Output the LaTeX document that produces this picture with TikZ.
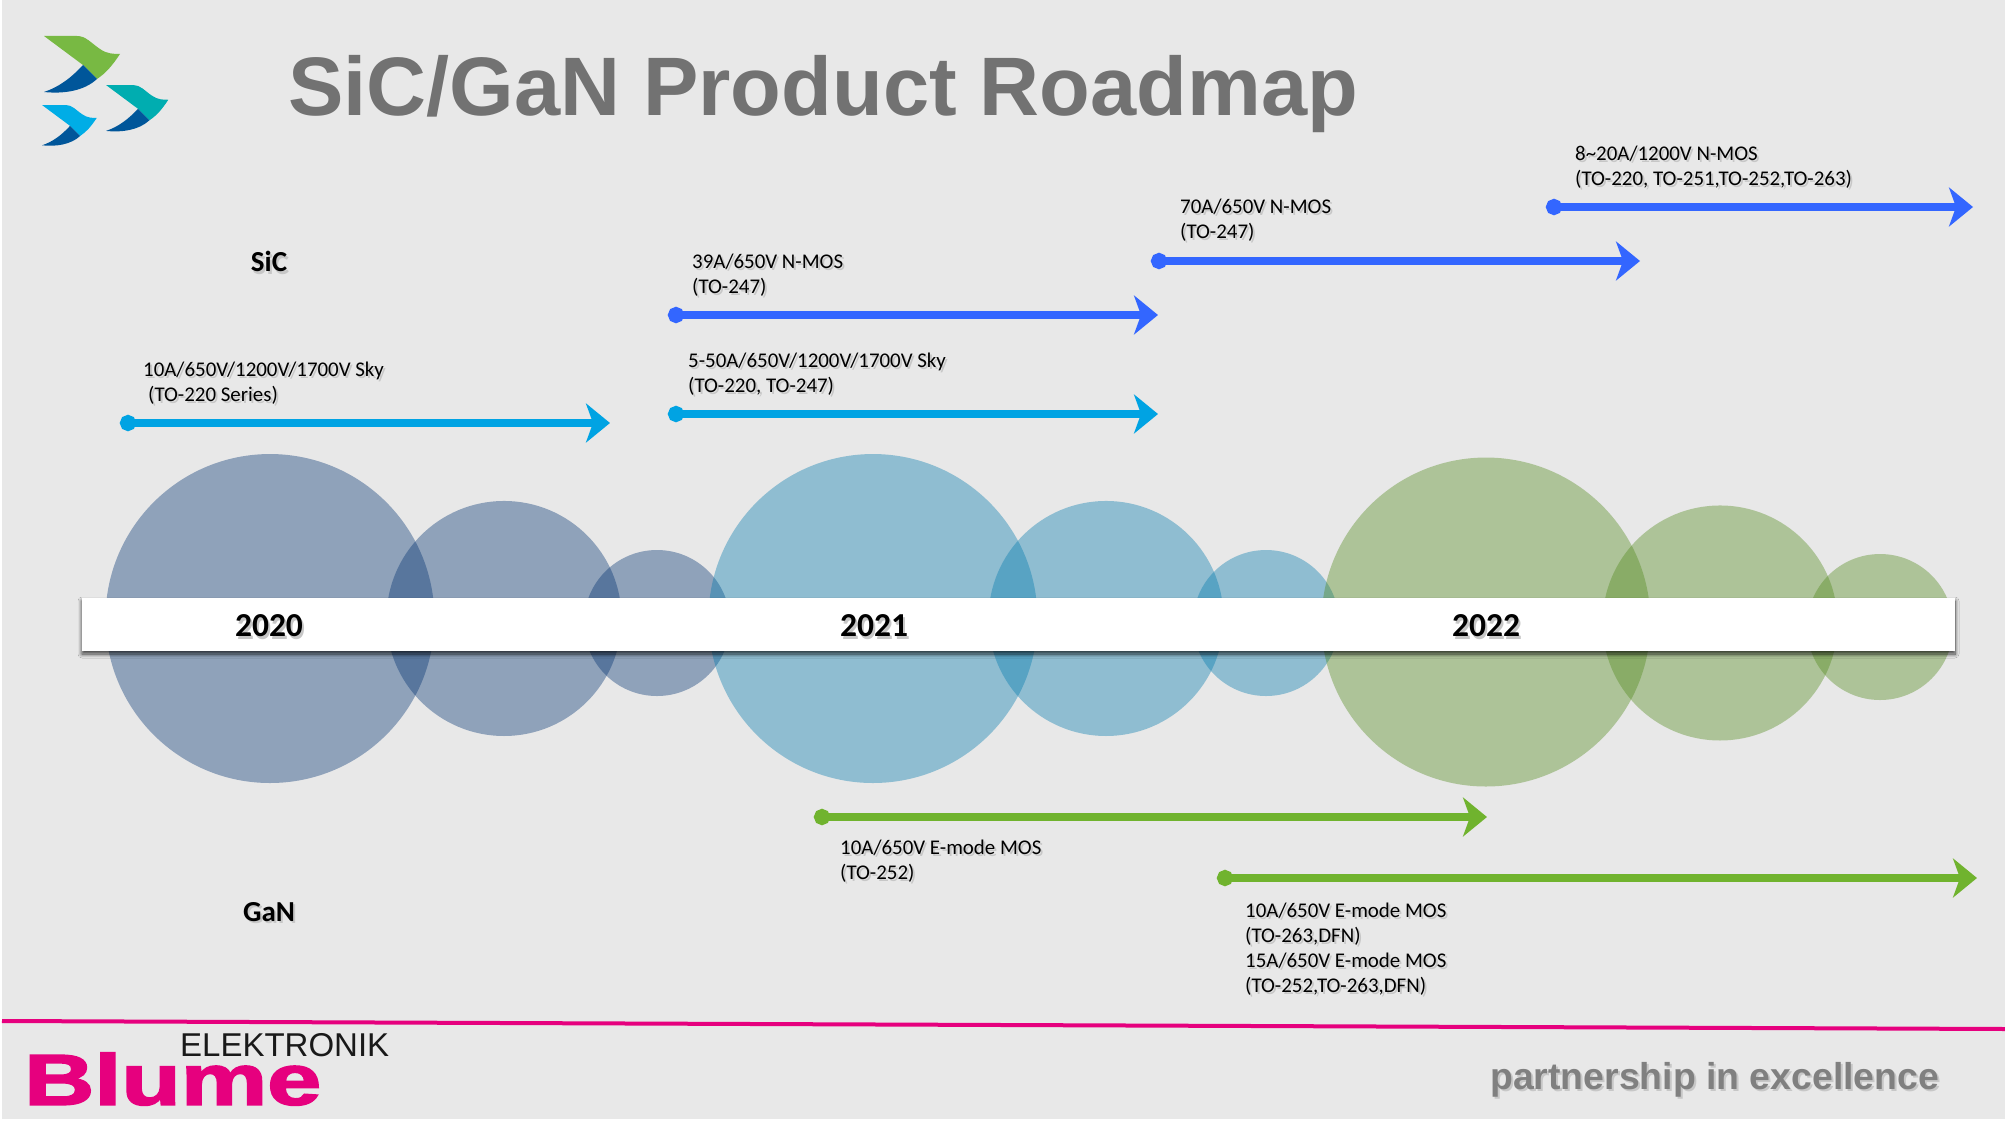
\documentclass[tikz,border=0pt]{standalone}
\usepackage{fontspec}
\setmainfont{Carlito}
\newfontfamily\arialfont{Liberation Sans}
\newfontfamily\blumefont[FakeBold=2.2]{Liberation Sans Bold}
\usetikzlibrary{arrows.meta,positioning,shadows.blur,fadings}
\definecolor{pagegray}{HTML}{E8E8E8}
\definecolor{skyblue}{HTML}{00A3E3}
\definecolor{sicblue}{HTML}{3366FF}
\definecolor{gangreen}{HTML}{70B32E}
\definecolor{bubbleone}{RGB}{0,48,112}
\definecolor{bubbletwo}{RGB}{0,121,174}
\definecolor{bubblethree}{RGB}{79,135,24}
\definecolor{blumepink}{HTML}{E6007E}
\definecolor{titlegray}{HTML}{727272}
\definecolor{birdgreen}{HTML}{78B943}
\definecolor{birdteal}{HTML}{00ADB0}
\definecolor{birdcyan}{HTML}{00ADE6}
\definecolor{birddark}{HTML}{00569A}
\pgfdeclareradialshading{softrimshade}{\pgfpointorigin}{color(0bp)=(pgftransparent!0); color(48bp)=(pgftransparent!0); color(50bp)=(pgftransparent!100)}
\pgfdeclarefading{softrim}{\pgfuseshading{softrimshade}}
\newcommand{\soft}[1]{\leavevmode\rlap{\hspace{2pt}\raisebox{-2.5pt}{\color{black!22}#1}}#1}
\newcommand{\drawbird}[4]{%
\begin{scope}[shift={(#1,#2)},scale=#3]
\fill[#4] (0,0) -- (33,0) .. controls (42,0) and (47,7) .. (56,13) .. controls (63,18) and (70,18) .. (76,18) .. controls (68,30) and (62,37) .. (53,43) -- (39,29) -- cycle;
\fill[birddark] (39,29) -- (53,43) .. controls (40,55) and (20,58) .. (0,56) .. controls (15,51) and (27,42) .. (39,29) -- cycle;
\end{scope}}
\tikzset{
  bubble/.style={fill=#1,fill opacity=.38,draw=none,path fading=softrim},
  roadarrow/.style={draw=#1,line width=8.5pt,{Circle[length=16pt]}-{Stealth[length=24pt,width=39pt,inset=7pt]}},
  lbl/.style={font=\fontsize{20.9}{25}\selectfont,align=left,anchor=west,inner sep=0pt},
  yearlbl/.style={font=\fontsize{33.5}{36}\selectfont\bfseries,inner sep=0pt},
  grouplbl/.style={font=\fontsize{29}{32}\selectfont\bfseries,inner sep=0pt},
}
\begin{document}
\begin{tikzpicture}[x=1pt,y=-1pt,line cap=butt]
\useasboundingbox (0,0) rectangle (2005,1124);
\fill[pagegray] (2,0) rectangle (2005,1119);
\drawbird{44}{36}{1}{birdgreen}
\drawbird{106}{85}{.82}{birdteal}
\drawbird{42}{105}{.72}{birdcyan}
\node[font=\arialfont\bfseries\fontsize{83}{90}\selectfont,text=titlegray,anchor=west,inner sep=0pt] (title) at (288,94) {SiC/GaN Product Roadmap};
\fill[bubble=bubbleone] (270,618.5) circle (164.5);
\fill[bubble=bubbleone] (504,618.5) circle (117.5);
\fill[bubble=bubbleone] (657,623) circle (73);
\fill[bubble=bubbletwo] (873,618.5) circle (164.5);
\fill[bubble=bubbletwo] (1106,618.5) circle (117.5);
\fill[bubble=bubbletwo] (1266,623) circle (73);
\fill[bubble=bubblethree] (1486,622) circle (164.5);
\fill[bubble=bubblethree] (1720,623) circle (117.5);
\fill[bubble=bubblethree] (1880,627) circle (73);
\fill[white,blur shadow={shadow xshift=0pt,shadow yshift=-3pt,shadow blur radius=4pt,shadow blur steps=8,shadow opacity=75}] (82,598) rectangle (1955,651);
\node[yearlbl] (yeara) at (269,627) {\soft{2020}};
\node[yearlbl] (yearb) at (874,627) {\soft{2021}};
\node[yearlbl] (yearc) at (1486,627) {\soft{2022}};
\node[grouplbl] (sic) at (269,263) {\soft{SiC}};
\node[grouplbl] (gan) at (269,913) {\soft{GaN}};
\coordinate (aones) at (120,423);
\coordinate (aonee) at (610,423);
\coordinate (atwos) at (668,315);
\coordinate (atwoe) at (1158,315);
\coordinate (athrees) at (668,414);
\coordinate (athreee) at (1158,414);
\coordinate (afours) at (1151,261);
\coordinate (afoure) at (1640,261);
\coordinate (afives) at (1546,207);
\coordinate (afivee) at (1973,207);
\coordinate (asixs) at (814,817);
\coordinate (asixe) at (1487,817);
\coordinate (asevens) at (1217,878);
\coordinate (asevene) at (1977,878);
\draw[roadarrow=skyblue] (aones) -- (aonee);
\draw[roadarrow=sicblue] (atwos) -- (atwoe);
\draw[roadarrow=skyblue] (athrees) -- (athreee);
\draw[roadarrow=sicblue] (afours) -- (afoure);
\draw[roadarrow=sicblue] (afives) -- (afivee);
\draw[roadarrow=gangreen] (asixs) -- (asixe);
\draw[roadarrow=gangreen] (asevens) -- (asevene);
\node[lbl] (lblone) at (143,384) {\soft{10A/650V/1200V/1700V Sky}\\\hspace*{5pt}\soft{(TO-220 Series)}};
\node[lbl] (lbltwo) at (692,276) {\soft{39A/650V N-MOS}\\\soft{(TO-247)}};
\node[lbl] (lblthree) at (688,375) {\soft{5-50A/650V/1200V/1700V Sky}\\\soft{(TO-220, TO-247)}};
\node[lbl] (lblfour) at (1180,221) {\soft{70A/650V N-MOS}\\\soft{(TO-247)}};
\node[lbl] (lblfive) at (1575,168) {\soft{8\textasciitilde20A/1200V N-MOS}\\\soft{(TO-220, TO-251,TO-252,TO-263)}};
\node[lbl] (lblsix) at (840,862) {\soft{10A/650V E-mode MOS}\\\soft{(TO-252)}};
\node[lbl] (lblseven) at (1245,950) {\soft{10A/650V E-mode MOS}\\\soft{(TO-263,DFN)}\\\soft{15A/650V E-mode MOS}\\\soft{(TO-252,TO-263,DFN)}};
\draw[blumepink,line width=4pt] (2,1021) -- (2005,1029);
\node[font=\arialfont\fontsize{33}{36}\selectfont,text=black!90,anchor=west,inner sep=0pt] (elek) at (180,1045) {ELEKTRONIK};
\node[font=\blumefont\fontsize{72}{76}\selectfont,text=blumepink,anchor=west,inner sep=0pt] (blume) at (24,1079) {\scalebox{1.35}[1]{Blume}};
\node[font=\arialfont\bfseries\fontsize{37.4}{40}\selectfont,text=black!50,anchor=west,inner sep=0pt] (motto) at (1490,1081) {\soft{partnership in excellence}};
\end{tikzpicture}
\end{document}
